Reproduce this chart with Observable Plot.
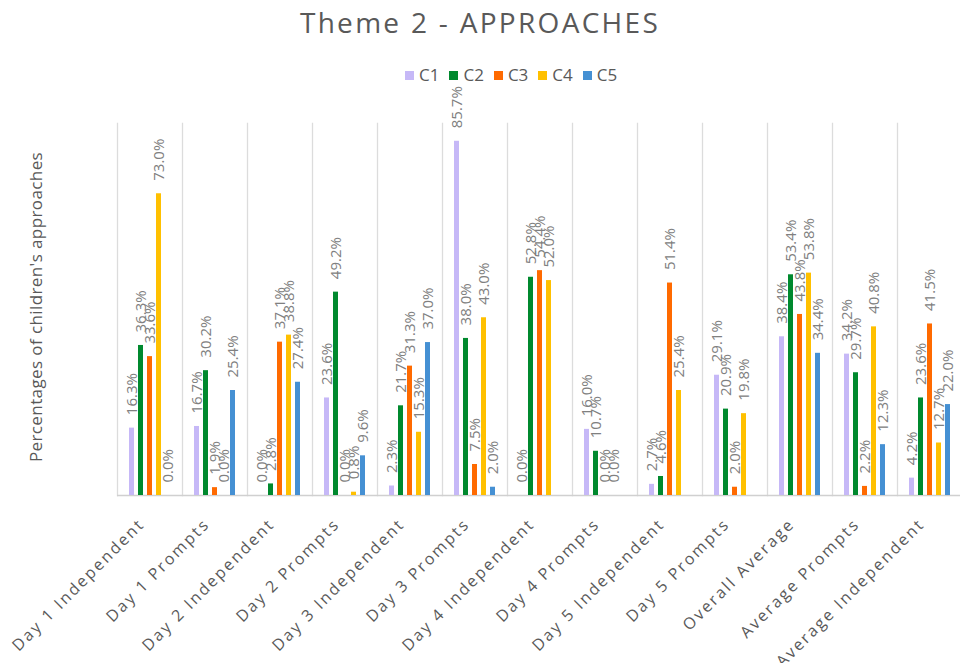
<!DOCTYPE html>
<html><head><meta charset="utf-8">
<script src="https://cdn.jsdelivr.net/npm/d3@7"></script>
<script src="https://cdn.jsdelivr.net/npm/@observablehq/plot@0.6"></script>
<style>
body{margin:0;background:#fff;font-family:"Open Sans",sans-serif;}
#wrap{position:relative;width:960px;height:663px;overflow:hidden;background:#fff;}
#title{position:absolute;top:3px;left:0;width:960px;text-align:center;font-size:28px;color:#595959;letter-spacing:2.3px;}
#legend{position:absolute;top:63px;left:405px;display:flex;gap:10px;font-size:17px;color:#595959;line-height:24px;}
#legend .it{display:flex;align-items:center;gap:5px;}
#legend .sw{width:9px;height:9px;display:inline-block;}
#ytitle{position:absolute;left:35px;top:307px;transform:translate(-50%,-50%) rotate(-90deg);white-space:nowrap;font-size:17px;color:#595959;letter-spacing:0.4px;}
#chart{position:absolute;left:0;top:0;}
g[aria-label="fx-axis tick label"] text{letter-spacing:2.2px;}
</style>
</head><body>
<div id="wrap">
<div id="chart"></div>
<div id="title">Theme 2 - APPROACHES</div>
<div id="legend"></div>
<div id="ytitle">Percentages of children's approaches</div>
</div>
<script>
const categories = ["Day 1 Independent","Day 1 Prompts","Day 2 Independent","Day 2 Prompts","Day 3 Independent","Day 3 Prompts","Day 4 Independent","Day 4 Prompts","Day 5 Independent","Day 5 Prompts","Overall Average","Average Prompts","Average Independent"];
const series = ["C1","C2","C3","C4","C5"];
const colors = ["#c6b8f7","#00892e","#ff6a00","#ffc000","#4590d3"];
const c1 = [16.3,16.7,0.0,23.6,2.3,85.7,0.0,16.0,2.7,29.1,38.4,34.2,4.2];
const c2 = [36.3,30.2,2.8,49.2,21.7,38.0,52.8,10.7,4.6,20.9,53.4,29.7,23.6];
const c3 = [33.6,1.9,37.1,0.0,31.3,7.5,54.4,0.0,51.4,2.0,43.8,2.2,41.5];
const c4 = [73.0,0.0,38.8,0.8,15.3,43.0,52.0,0.0,25.4,19.8,53.8,40.8,12.7];
const c5 = [0.0,25.4,27.4,9.6,37.0,2.0,null,null,null,null,34.4,12.3,22.0];

const values = [c1,c2,c3,c4,c5];
const data = [];
categories.forEach((cat,i)=>{
  series.forEach((s,j)=>{
    const v = values[j][i];
    if (v !== null) data.push({cat, series:s, value:v});
  });
});

const legend = document.getElementById("legend");
series.forEach((s,j)=>{
  const it = document.createElement("div"); it.className="it";
  it.innerHTML = `<span class="sw" style="background:${colors[j]}"></span><span>${s}</span>`;
  legend.appendChild(it);
});

const chart = Plot.plot({
  width: 960,
  height: 663,
  marginTop: 123,
  marginBottom: 168,
  marginLeft: 114,
  marginRight: -5,
  style: {fontFamily: "Open Sans, sans-serif", background: "transparent", overflow: "visible"},
  fx: {domain: categories, padding: 0},
  x: {domain: series, paddingInner: 0.48, paddingOuter: 1.1, axis: null},
  y: {domain: [0, 90], axis: null},
  color: {domain: series, range: colors},
  marks: [
    Plot.frame({anchor: "left", stroke: "#dcdcdc", strokeWidth: 1.3}),
    Plot.ruleY([0], {stroke: "#d0d0d0", strokeWidth: 1.5}),
    Plot.barY(data, {fx: "cat", x: "series", y: "value", fill: "series"}),
    Plot.text(data, {fx: "cat", x: "series", y: "value", text: d => d.value.toFixed(1) + "%", rotate: -90, textAnchor: "start", dy: -13, fill: "#808080", fontSize: 15}),
    Plot.axisFx({anchor: "bottom", tickRotate: -45, tickSize: 0, tickPadding: 14, dx: -8, dy: 12, fontSize: 16, fill: "#595959", label: null})
  ]
});
document.getElementById("chart").appendChild(chart);
</script>
</body></html>
